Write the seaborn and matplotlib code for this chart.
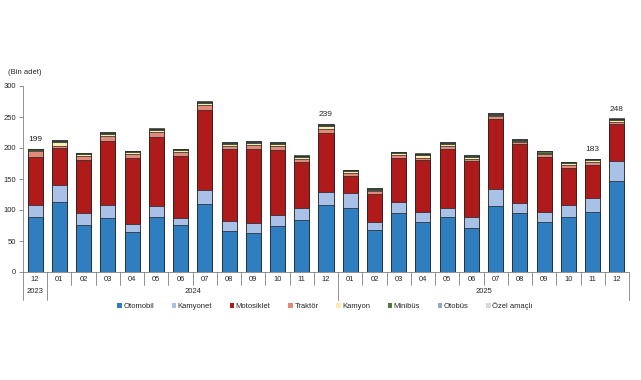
import matplotlib
matplotlib.use('Agg')
import numpy as np
import pandas as pd
import matplotlib.pyplot as plt
import matplotlib.transforms as mtransforms
from matplotlib.patches import Patch
import seaborn as sns

# donemler
aylar = ['12', '01', '02', '03', '04', '05', '06', '07', '08', '09', '10', '11', '12',
         '01', '02', '03', '04', '05', '06', '07', '08', '09', '10', '11', '12']
yillar = ['2023'] + ['2024'] * 12 + ['2025'] * 12

# araç türlerine göre (bin adet)
otomobil = [89, 113, 76.5, 87, 64, 89, 75.5, 109, 66, 63, 74, 84, 108,
            103, 68, 95, 80, 88, 71.5, 106.5, 95, 80, 88, 96, 147.5]
kamyonet = [19, 27, 18.5, 21, 13.5, 17.5, 11.5, 23, 17, 16, 17.5, 20, 21,
            24.5, 12, 17.5, 16, 15, 16.5, 27.5, 16, 16, 19.5, 23.5, 31.5]
motosiklet = [78, 60, 85, 104, 106.5, 111, 100, 130, 116, 120, 105.5, 74, 95,
              28, 46, 72, 84, 95.5, 91, 113.5, 95.5, 90, 61, 53, 59]
traktor = [9, 4, 7, 8, 6, 8.5, 6, 7, 5, 6, 6, 5, 7,
           3.5, 4, 3.5, 4.5, 4.5, 4, 3.5, 3.5, 4, 4.5, 5, 4.5]
kamyon = [2, 6, 3, 3, 3, 3, 4, 3.5, 3, 3, 4, 3, 4,
          4, 2, 3.5, 3.5, 4, 3, 3, 2, 1.5, 2.5, 2.5, 2.5]
minibus = [1.2, 1.5, 1.2, 1.5, 1.4, 1.5, 1.2, 1.8, 1.6, 2.2, 1.4, 1.3, 2.2,
           1.2, 2.3, 1.8, 2.2, 1.7, 1.6, 1.5, 1.7, 3, 1.6, 2.2, 1.7]
otobus = [0.5, 0.6, 0.5, 0.6, 0.5, 0.6, 0.5, 0.7, 0.6, 0.6, 0.5, 0.5, 0.8,
          0.5, 0.5, 0.6, 0.6, 0.6, 0.5, 0.6, 0.6, 0.6, 0.5, 0.5, 0.7]
ozel = [0.3, 0.4, 0.3, 0.4, 0.4, 0.4, 0.3, 0.5, 0.4, 0.4, 0.4, 0.3, 0.7,
        0.3, 0.4, 0.4, 0.4, 0.4, 0.4, 0.4, 0.4, 0.4, 0.4, 0.3, 0.6]

turler = ['Otomobil', 'Kamyonet', 'Motosiklet', 'Traktör', 'Kamyon',
          'Minibüs', 'Otobüs', 'Özel amaçlı']
renkler = ['#2E7EC0', '#A9C1E6', '#AF1A1A', '#E28B7B', '#FBEBB0',
           '#4E7A3A', '#93A9C9', '#D9D9D9']
etiketli = [0, 12, 23, 24]

df = pd.DataFrame({'Otomobil': otomobil, 'Kamyonet': kamyonet, 'Motosiklet': motosiklet,
                   'Traktör': traktor, 'Kamyon': kamyon, 'Minibüs': minibus,
                   'Otobüs': otobus, 'Özel amaçlı': ozel})
df['donem'] = [y + '-' + a for y, a in zip(yillar, aylar)]

sns.set_style('white')
plt.rcParams['font.family'] = ['Liberation Sans', 'DejaVu Sans']

fig = plt.figure(figsize=(6.41, 3.80), dpi=100)
ax = fig.add_axes([23 / 641, 108 / 380, 606 / 641, 186 / 380])

# yığılmış çubuklar: kümülatif toplamlar üstten alta doğru çizilir
cum = df[turler].cumsum(axis=1)
for i in range(len(turler) - 1, -1, -1):
    sns.barplot(x=df['donem'], y=cum[turler[i]], color=renkler[i], saturation=1,
                width=0.62, edgecolor='#222222', linewidth=0.5, errorbar=None, ax=ax)

ax.set_xlim(-0.5, 24.5)
ax.set_ylim(0, 300)
ax.set_yticks(range(0, 301, 50))
ax.set_xticks(range(len(aylar)))
ax.set_xticklabels(aylar)
ax.set_xlabel('')
ax.set_ylabel('')
ax.tick_params(axis='x', length=0, pad=3, labelsize=5.5)
ax.tick_params(axis='y', length=3, width=0.6, color='#808080', pad=2, labelsize=5.5, left=True)
for s in ['top', 'right']:
    ax.spines[s].set_visible(False)
for s in ['left', 'bottom']:
    ax.spines[s].set_color('#808080')
    ax.spines[s].set_linewidth(0.6)

# ay / yıl ayraçları
trans = mtransforms.blended_transform_factory(ax.transData, ax.transAxes)
for x in np.arange(-0.5, 25, 1.0):
    alt = -0.15 if x in (-0.5, 0.5, 12.5, 24.5) else -0.07
    ax.plot([x, x], [0, alt], transform=trans, clip_on=False, color='#808080', lw=0.6)
for yil, merkez in [('2023', 0), ('2024', 6.5), ('2025', 18.5)]:
    ax.text(merkez, -0.105, yil, transform=trans, ha='center', va='center', fontsize=5.5)

# toplam etiketleri
toplam = df[turler].sum(axis=1)
for i in etiketli:
    ax.annotate(f'{toplam[i]:.0f}', (i, toplam[i]), xytext=(0, 4), textcoords='offset points',
                ha='center', va='bottom', fontsize=6)

fig.text(0.012, 0.81, '(Bin adet)', fontsize=5.5, ha='left', va='center')

handles = [Patch(facecolor=c, edgecolor='none') for c in renkler]
fig.legend(handles, turler, loc='center', bbox_to_anchor=(0.507, 74 / 380), ncol=8,
           frameon=False, fontsize=5.5, handlelength=0.6, handleheight=0.6,
           handletextpad=0.2, columnspacing=2.3)

fig.savefig('out.png', dpi=100)
